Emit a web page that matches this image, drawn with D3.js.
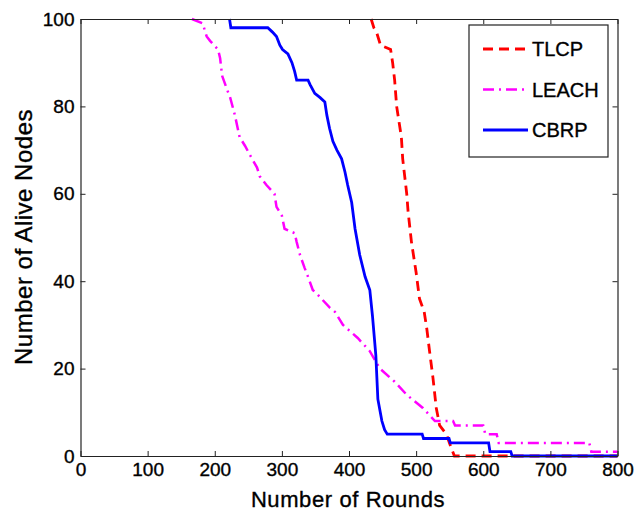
<!DOCTYPE html>
<meta charset="utf-8">
<style>
body { margin: 0; background: #fff; }
svg { display: block; font-family: "Liberation Sans", Arial, sans-serif; }
svg text { stroke: #000; stroke-width: 0.35px; }
.axis path, .axis line { stroke: #222; }
.axis text { font-size: 19px; fill: #000; }
</style>
<body>
<script src="https://d3js.org/d3.v7.min.js"></script>
<svg width="637" height="512"></svg>
<script>

// [round, alive nodes]
var tlcp = [[433,100],[437,98],[441,97],[447,94],[462,93],[465,90],[468,86],[471,80],[475,76],
  [478,73],[480,68],[483,64],[486,60],[488,56],[493,49],[500,42],[505,36],[512,33],[516,29],
  [520,24],[525,18],[530,11],[535,7],[545,5],[552,2],[557,0],[800,0]];

var leach = [[166,100],[182,99],[188,96],[193,95],[205,93],[208,91],[211,87],[218,84],[223,82],
  [230,78],[237,73],[245,71],[252,69],[263,66],[267,64],[277,62],[289,60],[292,57],[300,55],
  [304,52],[319,51],[322,49],[327,46],[334,43],[339,41],[346,38],[353,37],[359,36],[371,34],
  [379,33],[391,30],[413,27],[431,24],[446,20],[468,17],[486,14],[510,11],[528,8],[555,8],
  [558,7],[600,7],[603,5],[620,5],[623,3],[758,3],[761,1],[800,1]];

var cbrp = [[222,100],[224,98],[279,98],[286,97],[292,96],[297,94],[301,93],[309,92],[315,90],
  [319,88],[322,86],[339,86],[342,85],[349,83],[357,82],[364,81],[367,78],[371,75],[376,72],
  [382,70],[389,68],[394,65],[398,62],[404,58],[409,52],[416,46],[424,41],[431,38],[435,32],
  [440,23],[443,13],[449,8],[453,6],[457,5],[509,5],[511,4],[549,4],[551,3],[608,3],[610,1],
  [641,1],[643,0],[800,0]];

var names = ["TLCP", "LEACH", "CBRP"];
var xTicks = [0, 100, 200, 300, 400, 500, 600, 700, 800];
var yTicks = [0, 20, 40, 60, 80, 100];

var series = [
  {name: names[0], values: tlcp, color: "#ff0000", dash: "10,6", width: 2.8},
  {name: names[1], values: leach, color: "#ff00ff", dash: "11,5,2,5", width: 2.5},
  {name: names[2], values: cbrp, color: "#0000ff", dash: null, width: 2.8}
];

var svg = d3.select("svg"),
    plotL = 80.5, plotR = 617.5, plotT = 19, plotB = 456;

var x = d3.scaleLinear().domain([0, 800]).range([plotL, plotR]);
var y = d3.scaleLinear().domain([0, 100]).range([plotB, plotT]);

var line = d3.line()
    .x(function(d) { return x(d[0]); })
    .y(function(d) { return y(d[1]); });

svg.append("g")
  .selectAll("path")
  .data(series)
  .enter().append("path")
    .attr("fill", "none")
    .attr("stroke", function(d) { return d.color; })
    .attr("stroke-width", function(d) { return d.width; })
    .attr("stroke-dasharray", function(d) { return d.dash; })
    .attr("d", function(d) { return line(d.values); });

// box with inward ticks
svg.append("g")
    .attr("class", "axis")
    .attr("transform", "translate(0," + plotB + ")")
    .call(d3.axisBottom(x).tickValues(xTicks).tickSizeInner(-5).tickSizeOuter(0).tickPadding(7));

svg.append("g")
    .attr("class", "axis")
    .attr("transform", "translate(0," + plotT + ")")
    .call(d3.axisTop(x).tickValues(xTicks).tickSizeInner(-5).tickSizeOuter(0).tickFormat(""));

svg.append("g")
    .attr("class", "axis")
    .attr("transform", "translate(" + plotL + ",0)")
    .call(d3.axisLeft(y).tickValues(yTicks).tickSizeInner(-5).tickSizeOuter(0).tickPadding(6));

svg.append("g")
    .attr("class", "axis")
    .attr("transform", "translate(" + plotR + ",0)")
    .call(d3.axisRight(y).tickValues(yTicks).tickSizeInner(-5).tickSizeOuter(0).tickFormat(""));

svg.selectAll(".axis .domain").attr("stroke-width", 1.2);

svg.append("text")
    .attr("x", 348)
    .attr("y", 507)
    .attr("text-anchor", "middle")
    .attr("font-size", 22)
    .attr("letter-spacing", 0.6)
    .text("Number of Rounds");

svg.append("text")
    .attr("transform", "translate(32,237) rotate(-90)")
    .attr("text-anchor", "middle")
    .attr("font-size", 24)
    .attr("letter-spacing", 0.5)
    .text("Number of Alive Nodes");

// legend
var legend = svg.append("g").attr("transform", "translate(469,25)");

legend.append("rect")
    .attr("width", 139)
    .attr("height", 132)
    .attr("fill", "#fff")
    .attr("stroke", "#222")
    .attr("stroke-width", 1.2);

var item = legend.selectAll(".item")
  .data(series)
  .enter().append("g")
    .attr("transform", function(d, i) { return "translate(0," + (24 + i * 40.5) + ")"; });

item.append("line")
    .attr("x1", 14)
    .attr("x2", 59)
    .attr("stroke", function(d) { return d.color; })
    .attr("stroke-width", function(d) { return d.width; })
    .attr("stroke-dasharray", function(d) { return d.dash; });

item.append("text")
    .attr("x", 63)
    .attr("dy", "0.36em")
    .attr("font-size", 20)
    .text(function(d) { return d.name; });

</script>
</body>
